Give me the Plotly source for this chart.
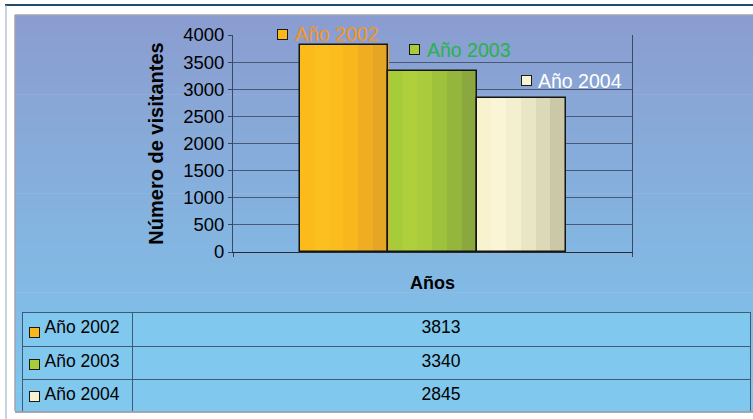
import plotly.graph_objects as go

# ---------------- data ----------------
years = ["Año 2002", "Año 2003", "Año 2004"]
visitors = [3813, 3340, 2845]
y_tick_vals = [0, 500, 1000, 1500, 2000, 2500, 3000, 3500, 4000]
y_title = "Número de visitantes"
x_title = "Años"

# ---------------- style ----------------
W, H = 753, 419
FONT = "Liberation Sans, Arial, sans-serif"
key_colors = ["#FBB81C", "#A9CC3A", "#F8F3D0"]
label_colors = ["#F7941D", "#27B34B", "#FFFFFF"]
stripe_shades = [
    ["#FBBB1B", "#FCBF20", "#FBBD1D", "#F8B71D", "#EFAE21", "#E5A525"],
    ["#A6CC3A", "#AFD03B", "#A9CB3C", "#9FC23C", "#95B63D", "#8AA83D"],
    ["#F8F2CF", "#FAF5D6", "#F3EFCF", "#E9E6C4", "#DCD9B8", "#CBC8A7"],
]
# pixel offsets of the data-label keys relative to bar top centre
label_dx = [-61, -18, 5]
label_dy = [11, 21, 17]


def fx(px):
    return px / W


def fy(py):
    return 1 - py / H


fig = go.Figure()

# bars drawn as vertical stripes (shading) + outline
n = len(stripe_shades[0])
bar_x = list(range(len(years)))
for k in range(n):
    fig.add_trace(go.Bar(
        x=[i - 0.5 + (k + 0.5) / n for i in bar_x], y=visitors, width=1.0 / n + 0.01,
        marker=dict(color=[stripe_shades[i][k] for i in bar_x], line=dict(width=0)),
        showlegend=False, hoverinfo="skip"))
fig.add_trace(go.Bar(
    x=bar_x, y=visitors, width=1.0, name="visitantes",
    marker=dict(color="rgba(0,0,0,0)", line=dict(color="#151515", width=1.5)),
    text=years, hovertemplate="%{text}: %{y}<extra></extra>", textposition="none",
    showlegend=False))

# table (first row as header row, styled like the others)
nb = "\u00a0"
row_labels = [nb * 3 + y.replace(" ", nb) for y in years]
row_values = [str(v) for v in visitors]
cell_style = dict(fill_color="#80C8EE", line=dict(color="#3E5B78", width=1),
                  align=["left", "center"],
                  font=dict(family=FONT, size=17.5, color="black"))
fig.add_trace(go.Table(
    domain=dict(x=[fx(22), fx(750)], y=[fy(411), fy(312)]),
    columnwidth=[110, 618],
    header=dict(values=[row_labels[0], row_values[0]], height=34, **cell_style),
    cells=dict(values=[row_labels[1:], row_values[1:]], height=33, **cell_style)))

shapes = []
# background gradient
top_c = (139, 157, 208)
bot_c = (126, 199, 238)
y0, y1 = 15, 411
steps = 40
for s in range(steps):
    t = s / (steps - 1)
    c = tuple(round(top_c[j] + (bot_c[j] - top_c[j]) * t) for j in range(3))
    a = y0 + (y1 - y0) * s / steps
    b = y0 + (y1 - y0) * (s + 1) / steps + 0.6
    shapes.append(dict(type="rect", xref="paper", yref="paper", layer="below",
                       x0=fx(15), x1=1.01, y0=fy(b), y1=fy(a),
                       fillcolor="rgb(%d,%d,%d)" % c, line=dict(width=0)))
# frame lines
shapes.append(dict(type="line", xref="paper", yref="paper", layer="below",
                   x0=fx(5), x1=1, y0=fy(5), y1=fy(5), line=dict(color="#244A70", width=2)))
shapes.append(dict(type="line", xref="paper", yref="paper", layer="below",
                   x0=fx(6), x1=fx(6), y0=fy(5), y1=0, line=dict(color="#93A8BE", width=1)))
shapes.append(dict(type="line", xref="paper", yref="paper", layer="below",
                   x0=fx(15), x1=fx(15), y0=fy(15), y1=fy(411), line=dict(color="#A2A2B2", width=1.5)))
shapes.append(dict(type="line", xref="paper", yref="paper", layer="below",
                   x0=fx(15), x1=1, y0=fy(15), y1=fy(15), line=dict(color="#A2A2B2", width=1.5)))
shapes.append(dict(type="line", xref="paper", yref="paper", layer="below",
                   x0=fx(15), x1=1, y0=fy(412), y1=fy(412), line=dict(color="#8C8C96", width=1.5)))

annotations = []
# data labels with legend keys
for i, (yr, v) in enumerate(zip(years, visitors)):
    annotations.append(dict(x=i, y=v, xref="x", yref="y", text=" ", showarrow=False,
                            xanchor="center", yanchor="middle",
                            width=9, height=9, borderpad=0, borderwidth=1,
                            bordercolor="#1A1A1A", bgcolor=key_colors[i],
                            font=dict(size=6), xshift=label_dx[i], yshift=label_dy[i]))
    annotations.append(dict(x=i, y=v, xref="x", yref="y", text=yr, showarrow=False,
                            xanchor="left", yanchor="middle",
                            xshift=label_dx[i] + 10, yshift=label_dy[i],
                            font=dict(family=FONT, size=19.5, color=label_colors[i])))
# legend keys in the table
row_centres = [332, 364, 396]
for i in range(len(years)):
    annotations.append(dict(x=fx(34), y=fy(row_centres[i]), xref="paper", yref="paper",
                            xanchor="center", yanchor="middle",
                            text=" ", showarrow=False, width=9, height=9, borderpad=0,
                            borderwidth=1, bordercolor="#1A1A1A", bgcolor=key_colors[i],
                            font=dict(size=6)))

fig.update_layout(
    width=W, height=H, margin=dict(l=0, r=0, t=0, b=0),
    paper_bgcolor="white", plot_bgcolor="rgba(0,0,0,0)",
    font=dict(family=FONT, color="black"),
    barmode="overlay", bargap=0,
    shapes=shapes, annotations=annotations, showlegend=False,
    xaxis=dict(domain=[fx(233), fx(632)], range=[-1.25, 3.25],
               tickvals=[-1.25, 3.25], ticks="outside", ticklen=4, tickcolor="#3A4560",
               showticklabels=False, showline=True, linecolor="#2A2A2A", linewidth=1,
               showgrid=False, zeroline=False, automargin=False, fixedrange=True,
               title=dict(text="<b>%s</b>" % x_title, font=dict(family=FONT, size=18),
                          standoff=20)),
    yaxis=dict(domain=[fy(252), fy(35)], range=[0, 4000], tickvals=y_tick_vals,
               ticks="outside", ticklen=4, tickcolor="#3A4560",
               tickfont=dict(family=FONT, size=18.5),
               showgrid=True, gridcolor="#4A5878", gridwidth=1,
               showline=True, mirror=True, linecolor="#3C4866", linewidth=1,
               zeroline=False, automargin=False, fixedrange=True,
               title=dict(text="<b>%s</b>" % y_title, font=dict(family=FONT, size=20),
                          standoff=14)),
)

fig.write_html("out.html", config={"displayModeBar": False},
               post_script="document.body.style.margin='0';document.body.style.overflow='hidden';")
